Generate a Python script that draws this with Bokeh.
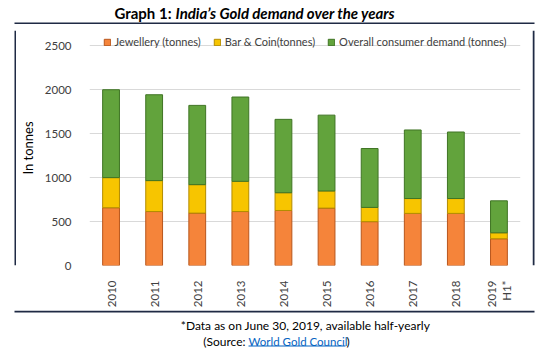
import math
from bokeh.plotting import figure
from bokeh.models import (ColumnDataSource, FixedTicker, Legend, LegendItem, Label, Range1d)
from bokeh.layouts import column, row
from bokeh.embed import file_html
from bokeh.resources import INLINE

years = ["2010", "2011", "2012", "2013", "2014", "2015", "2016", "2017", "2018", "2019\nH1*"]
jewellery = [657, 614, 596, 614, 626, 653, 499, 593, 593, 304]
bar_coin = [343, 352, 324, 344, 202, 195, 162, 169, 169, 68]
overall = [1000, 977, 902, 959, 835, 863, 670, 780, 757, 364]
series = ["jewellery", "bar_coin", "overall"]
series_labels = ["Jewellery (tonnes)", "Bar & Coin(tonnes)", "Overall consumer demand (tonnes)"]
y_ticks = [0, 500, 1000, 1500, 2000, 2500]

fills = ["#F5843A", "#F7C500", "#62A33C"]
edges = ["#B8561C", "#B38C00", "#3F7424"]
BOX_COLOR = "#1F2A44"

FONT = "Lato"
TICK_COLOR = "#404040"

src = ColumnDataSource(dict(years=years, jewellery=jewellery, bar_coin=bar_coin, overall=overall))


def blank_fig(w, h):
    f = figure(width=w, height=h, x_range=Range1d(0, w), y_range=Range1d(0, h),
               output_backend="svg", toolbar_location=None,
               x_axis_location=None, y_axis_location=None,
               min_border=0, min_border_left=0, min_border_right=0,
               min_border_top=0, min_border_bottom=0)
    f.outline_line_color = None
    f.xgrid.visible = False
    f.ygrid.visible = False
    f.background_fill_alpha = 0
    f.border_fill_alpha = 0
    return f


# ---------- title + top edge of the box ----------
t = blank_fig(540, 24)
t.add_layout(Label(x=171, y=12, text="Graph 1:", text_align="right", text_baseline="middle",
                   text_font=FONT, text_font_style="bold", text_font_size="15px",
                   text_color="#000000"))
t.add_layout(Label(x=175, y=12, text="India\u2019s Gold demand over the years",
                   text_align="left", text_baseline="middle",
                   text_font=FONT, text_font_style="bold italic", text_font_size="15px",
                   text_color="#000000"))
t.segment(x0=[14], y0=[1], x1=[534], y1=[1], line_color=BOX_COLOR, line_width=2)

# ---------- side edges of the box ----------
left_edge = blank_fig(16, 286)
left_edge.segment(x0=[15], y0=[0], x1=[15], y1=[286], line_color=BOX_COLOR, line_width=2)
right_edge = blank_fig(8, 286)
right_edge.segment(x0=[1], y0=[0], x1=[1], y1=[286], line_color=BOX_COLOR, line_width=2)

# ---------- main chart ----------
p = figure(width=516, height=286, x_range=years, y_range=Range1d(0, 2674),
           output_backend="svg", toolbar_location=None,
           min_border_left=71, min_border_right=12, min_border_top=6, min_border_bottom=45)
p.border_fill_alpha = 0

renderers = p.vbar_stack(series, x="years", source=src, width=0.39,
                         fill_color=fills, line_color=edges, line_width=1)

p.xgrid.grid_line_color = None
p.ygrid.grid_line_color = "#D9D9D9"
p.ygrid.grid_line_width = 1
p.outline_line_color = None

p.yaxis.ticker = FixedTicker(ticks=y_ticks)
p.yaxis.axis_line_color = None
p.yaxis.major_tick_line_color = None
p.yaxis.minor_tick_line_color = None
p.yaxis.major_label_text_font = FONT
p.yaxis.major_label_text_font_size = "11.5px"
p.yaxis.major_label_text_color = TICK_COLOR
p.yaxis.major_label_standoff = 12
p.yaxis.axis_label = "In tonnes"
p.yaxis.axis_label_text_font = FONT
p.yaxis.axis_label_text_font_size = "13px"
p.yaxis.axis_label_text_font_style = "normal"
p.yaxis.axis_label_text_color = "#000000"
p.yaxis.axis_label_standoff = 6

p.xaxis.axis_line_color = None
p.xaxis.major_tick_line_color = None
p.xaxis.minor_tick_line_color = None
p.xaxis.major_label_orientation = math.pi / 2
p.xaxis.major_label_text_font = FONT
p.xaxis.major_label_text_font_size = "11.5px"
p.xaxis.major_label_text_color = TICK_COLOR
p.xaxis.major_label_standoff = 9

legend = Legend(items=[LegendItem(label=l, renderers=[r]) for l, r in zip(series_labels, renderers)],
                orientation="horizontal", location="top_center", background_fill_alpha=0,
                border_line_color=None, label_text_font=FONT, label_text_font_size="11px",
                label_text_color=TICK_COLOR, glyph_width=8, glyph_height=8, spacing=12,
                label_standoff=4, label_height=12, padding=0, margin=5)
p.add_layout(legend, "center")

chart_row = row(left_edge, p, right_edge)

# ---------- bottom edge of the box + footnotes ----------
fn = blank_fig(540, 38)
fn.segment(x0=[14], y0=[37], x1=[534], y1=[37], line_color=BOX_COLOR, line_width=2)
fn.add_layout(Label(x=305, y=23, text="*Data as on June 30, 2019, available half-yearly",
                    text_align="center", text_baseline="middle", text_font=FONT,
                    text_font_size="12px", text_color="#000000"))
fn.add_layout(Label(x=245, y=7, text="(Source:", text_align="right", text_baseline="middle",
                    text_font=FONT, text_font_size="12px", text_color="#000000"))
fn.add_layout(Label(x=248, y=7, text="World Gold Council", text_align="left",
                    text_baseline="middle", text_font=FONT, text_font_size="11.5px",
                    text_color="#0563C1"))
fn.add_layout(Label(x=346, y=7, text=")", text_align="left", text_baseline="middle",
                    text_font=FONT, text_font_size="12px", text_color="#000000"))
fn.segment(x0=[248], y0=[2.5], x1=[345], y1=[2.5], line_color="#0563C1", line_width=1)

layout = column(t, chart_row, fn)

open("out.html", "w").write(file_html(layout, INLINE))
